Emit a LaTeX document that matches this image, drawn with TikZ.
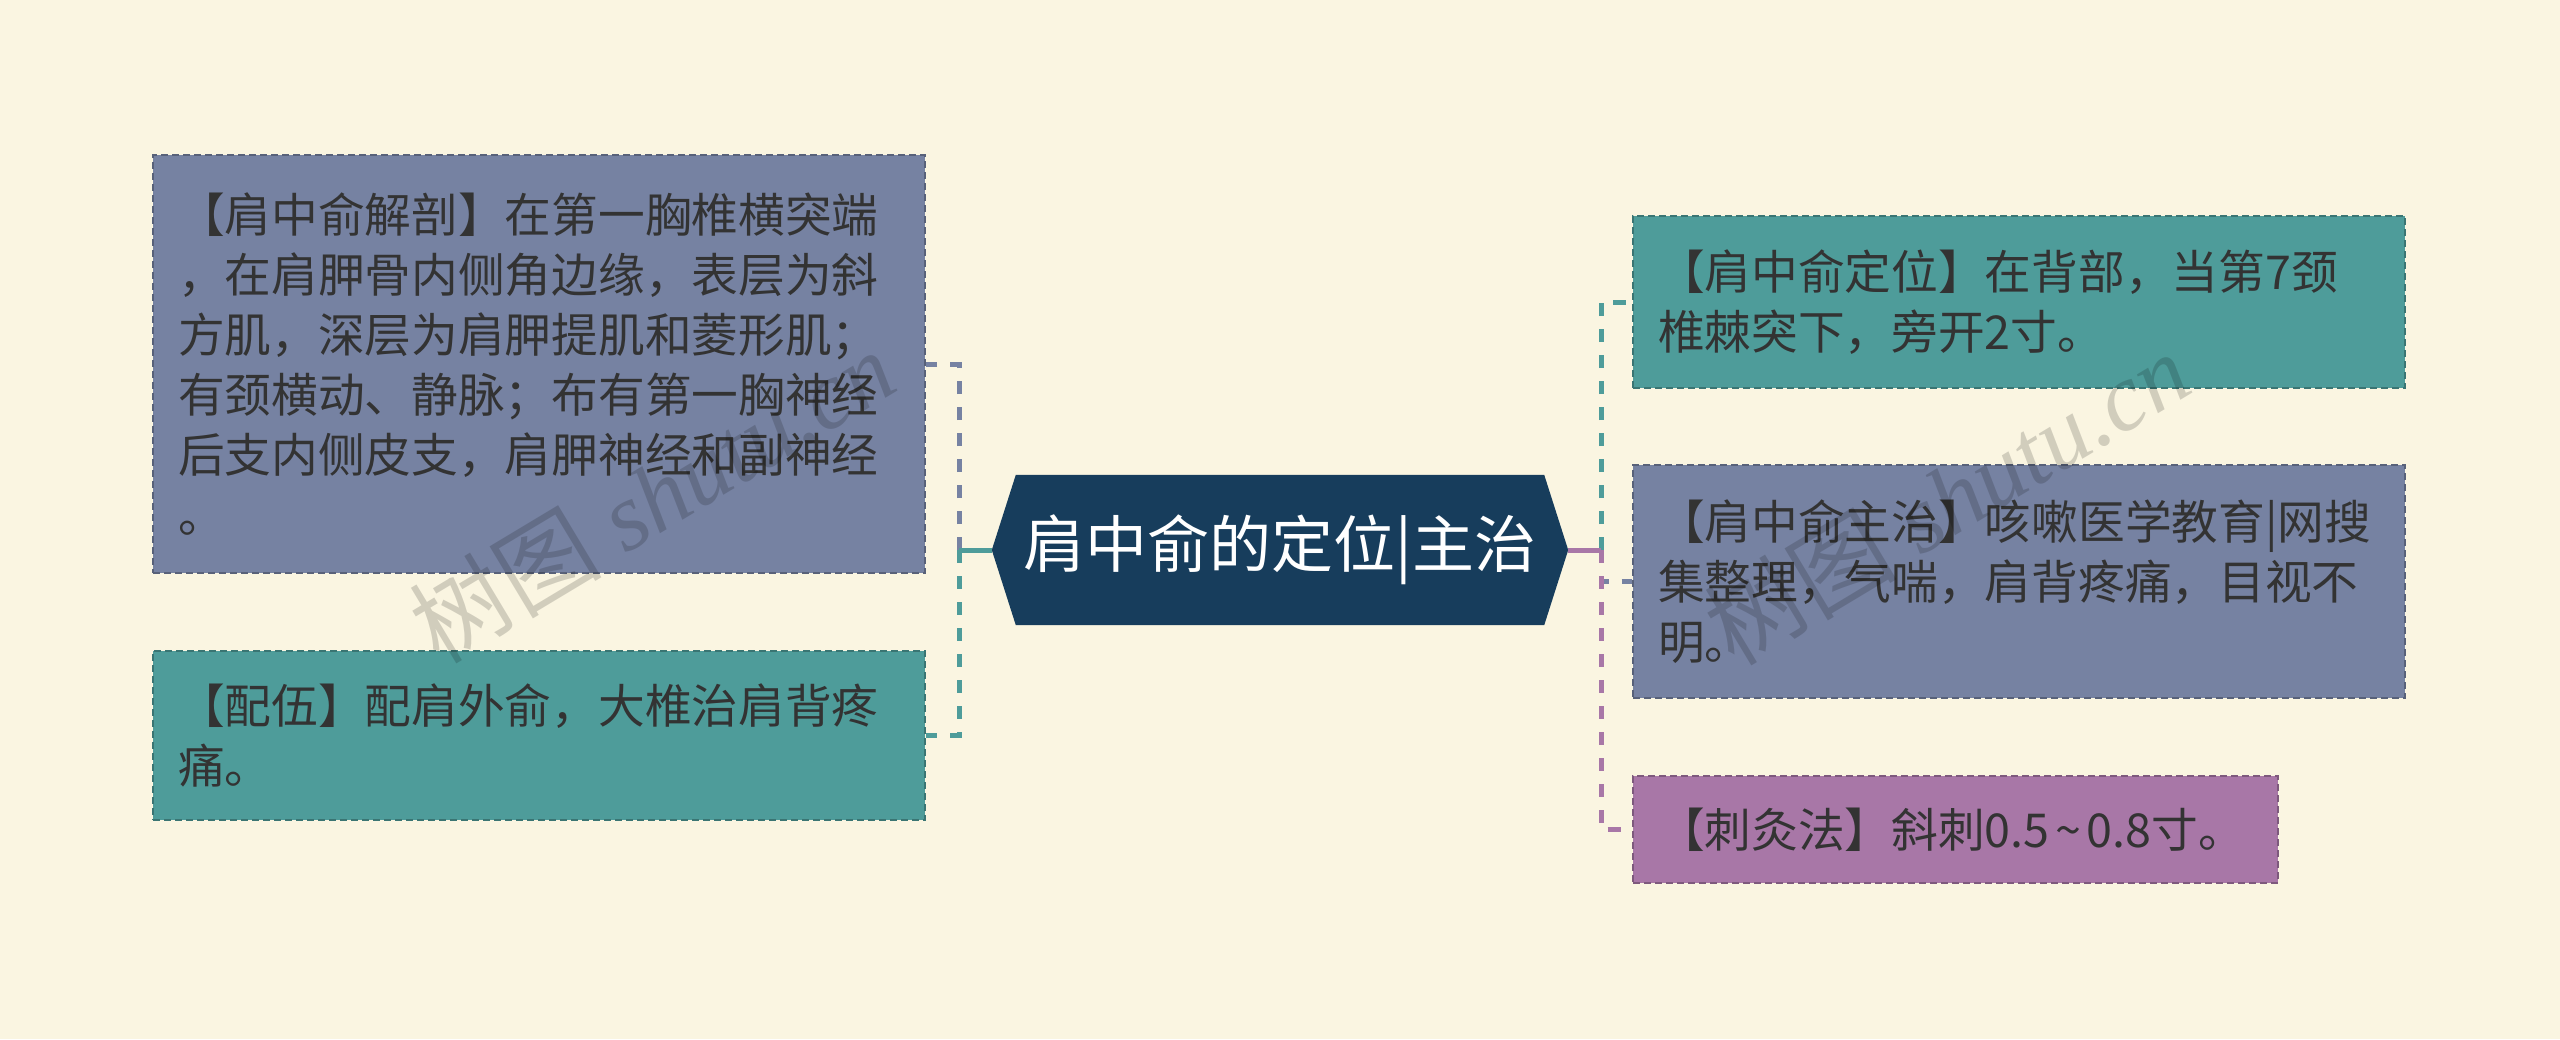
\documentclass[tikz,border=0pt]{standalone}
\usepackage{fontspec}
\setmainfont{Liberation Serif}
\newfontfamily\cjk{Noto Sans CJK SC}
\usetikzlibrary{calc}
\definecolor{bgc}{HTML}{FAF5E1}
\definecolor{slatec}{HTML}{7682A2}
\definecolor{tealc}{HTML}{4E9C9A}
\definecolor{purc}{HTML}{A877A7}
\definecolor{navyc}{HTML}{173D5C}
\definecolor{txtc}{HTML}{333333}
\begin{document}
\begin{tikzpicture}[x=1pt,y=-1pt,
  boxstyle/.style={draw=#1!75!black, fill=#1, line width=2pt, dash pattern=on 7pt off 4pt,
    font=\cjk\fontsize{46.7}{60}\selectfont, text=txtc, align=left,
    inner xsep=25pt, inner ysep=0pt, anchor=center},
  conn/.style={line width=5pt, dash pattern=on 13pt off 13pt},
  wmark/.style={text=black, text opacity=0.16, rotate=31, font=\fontsize{96}{96}\selectfont}]
\fill[bgc] (0,0) rectangle (2560,1039);
\useasboundingbox (0,0) rectangle (2560,1039);

% center
\node[minimum width=576pt, minimum height=150pt, inner sep=0pt] (c) at (1280,550) {};
\fill[navyc] (c.west) -- ($(c.north west)+(24,0)$) -- ($(c.north east)+(-24,0)$) -- (c.east)
  -- ($(c.south east)+(-24,0)$) -- ($(c.south west)+(24,0)$) -- cycle;
\node[text=white, font=\cjk\fontsize{62}{70}\selectfont] (ct) at (c.center) {肩中俞的定位|主治};

% left boxes
\node[boxstyle=slatec, text width=722pt, minimum height=418pt] (l1) at (539,364)
 {【肩中俞解剖】在第一胸椎横突端\\，在肩胛骨内侧角边缘，表层为斜\\方肌，深层为肩胛提肌和菱形肌；\\有颈横动、静脉；布有第一胸神经\\后支内侧皮支，肩胛神经和副神经\\。};
\node[boxstyle=tealc, text width=722pt, minimum height=169pt] (l2) at (539,735.5)
 {【配伍】配肩外俞，大椎治肩背疼\\痛。};

% right boxes
\node[boxstyle=tealc, text width=722pt, minimum height=172pt] (r1) at (2019,302)
 {【肩中俞定位】在背部，当第7颈\\椎棘突下，旁开2寸。};
\node[boxstyle=slatec, text width=722pt, minimum height=233pt] (r2) at (2019,581.5)
 {【肩中俞主治】咳嗽医学教育|网搜\\集整理，气喘，肩背疼痛，目视不\\明。};
\node[boxstyle=purc, text width=595pt, minimum height=107pt] (r3) at (1955.5,829.5)
 {\mbox{【刺灸法】斜刺0.5\hspace{0.12em}{\char"7E}\hspace{0.12em}0.8寸。}};

% connectors
\coordinate (lj) at (959,550);
\coordinate (rj) at (1601,550);
\draw[conn, slatec] (lj) |- (l1.east);
\draw[conn, tealc] (lj) |- (l2.east);
\draw[line width=5pt, tealc] (c.west) -- (lj);
\draw[conn, tealc] (rj) |- (r1.west);
\draw[conn, slatec] (rj) |- (r2.west);
\draw[conn, purc] (rj) |- (r3.west);
\draw[line width=5pt, purc] (c.east) -- (rj);

% watermarks
\node[wmark] (w1) at (652,496) {{\cjk 树图} \textit{shutu.cn}};
\node[wmark] (w2) at (1947,498) {{\cjk 树图} \textit{shutu.cn}};
\end{tikzpicture}
\end{document}
